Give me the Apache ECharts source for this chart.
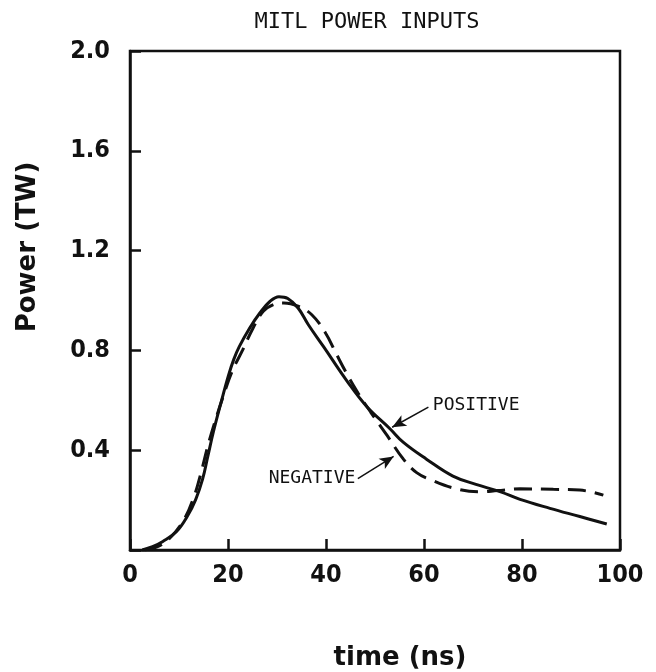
<!DOCTYPE html>
<html>
<head>
<meta charset="utf-8">
<script src="https://cdn.jsdelivr.net/npm/echarts@6/dist/echarts.min.js"></script>
<style>
  html, body { margin: 0; padding: 0; background: #fff; }
  #chart { width: 656px; height: 672px; }
</style>
</head>
<body>
<div id="chart"></div>
<script>
// time (ns) / power (TW)
var positiveTime = [2.5, 4.6, 6.7, 9.5, 11.7, 13.4, 14.8, 15.9, 17, 18.7, 20.1, 21.2, 22.3, 24.4, 26.5, 28.6, 30.4, 32.2, 34.3, 36.4, 39.5, 44.4, 48.4, 53.1, 55.8, 60.5, 65.9, 70.6, 75.5, 79.6, 85.7, 91.8, 97.3]
var positivePower = [0, 0.013, 0.034, 0.074, 0.135, 0.202, 0.283, 0.377, 0.472, 0.6, 0.7, 0.765, 0.815, 0.889, 0.95, 0.997, 1.015, 1.008, 0.97, 0.903, 0.815, 0.674, 0.573, 0.485, 0.431, 0.364, 0.296, 0.263, 0.234, 0.203, 0.167, 0.134, 0.104]

var negativeTime = [3, 5.5, 8.1, 11, 13.1, 14.5, 15.9, 17.3, 19.1, 20.8, 23, 25.1, 27.2, 29.3, 31.4, 34.3, 37.1, 39.9, 42, 44, 46.5, 49.1, 52.5, 55.8, 58.5, 61.2, 65.9, 71.3, 75, 79.6, 86.4, 91.8, 96.6]
var negativePower = [0, 0.012, 0.047, 0.121, 0.216, 0.31, 0.418, 0.512, 0.62, 0.714, 0.802, 0.889, 0.957, 0.984, 0.99, 0.977, 0.943, 0.87, 0.79, 0.715, 0.63, 0.553, 0.458, 0.364, 0.31, 0.283, 0.249, 0.233, 0.238, 0.245, 0.243, 0.24, 0.22]

var xTicks = [0, 20, 40, 60, 80, 100]
var yTicks = [0, 0.4, 0.8, 1.2, 1.6, 2.0]

// arrow annotations: [tail, head] in data units
var positiveArrow = [[60.9, 0.573], [53.5, 0.492]]
var negativeArrow = [[46.5, 0.286], [53.8, 0.375]]

function pairs(xs, ys) {
  return xs.map(function(x, i) { return [x, ys[i]] })
}

var labelFont = "'DejaVu Sans Condensed', 'DejaVu Sans', sans-serif"
var nameFont = "'DejaVu Sans', sans-serif"
var monoFont = "'DejaVu Sans Mono', monospace"

var chart = echarts.init(document.getElementById('chart'))
chart.setOption({
  animation: false,
  backgroundColor: '#fff',
  title: {
    text: 'MITL POWER INPUTS',
    left: 362,
    textAlign: 'center',
    top: 6,
    textStyle: { fontFamily: monoFont, fontWeight: 'normal', fontSize: 22, color: '#111' }
  },
  grid: {
    left: 130,
    right: 36,
    top: 51,
    bottom: 122,
    show: true,
    borderColor: '#111',
    borderWidth: 2.5
  },
  xAxis: {
    type: 'value',
    min: xTicks[0],
    max: xTicks[xTicks.length - 1],
    interval: 20,
    axisLine: { lineStyle: { color: '#111', width: 2.5 } },
    axisTick: { inside: true, length: 11, lineStyle: { color: '#111', width: 2.5 } },
    axisLabel: { fontFamily: labelFont, fontWeight: 'bold', fontSize: 25, color: '#111', margin: 13 },
    splitLine: { show: false }
  },
  yAxis: {
    type: 'value',
    min: yTicks[0],
    max: yTicks[yTicks.length - 1],
    interval: 0.4,
    axisLine: { lineStyle: { color: '#111', width: 2.5 } },
    axisTick: { inside: true, length: 11, lineStyle: { color: '#111', width: 2.5 } },
    axisLabel: {
      fontFamily: labelFont, fontWeight: 'bold', fontSize: 25, color: '#111', margin: 20,
      formatter: function(v) { return v === 0 ? '' : v.toFixed(1) }
    },
    splitLine: { show: false }
  },
  graphic: [
    {
      type: 'text',
      x: 28, y: 247,
      rotation: Math.PI / 2,
      style: {
        text: 'Power (TW)', fill: '#111',
        font: 'bold 26px ' + nameFont,
        align: 'center', verticalAlign: 'middle'
      }
    },
    {
      type: 'text',
      x: 400, y: 658,
      style: {
        text: 'time (ns)', fill: '#111',
        font: 'bold 26px ' + nameFont,
        align: 'center', verticalAlign: 'middle'
      }
    }
  ],
  series: [
    {
      name: 'POSITIVE',
      type: 'line',
      data: pairs(positiveTime, positivePower),
      smooth: 0.4,
      showSymbol: false,
      lineStyle: { color: '#111', width: 3 },
      markLine: {
        silent: true,
        symbolSize: [9, 14],
        lineStyle: { color: '#111', width: 1.5, type: 'solid' },
        label: { show: false },
        data: [[
          { coord: positiveArrow[0], symbol: 'none' },
          { coord: positiveArrow[1], symbol: 'arrow' }
        ]]
      },
      markPoint: {
        silent: true,
        symbol: 'circle',
        symbolSize: 0,
        label: {
          show: true, position: 'right', distance: 1,
          formatter: 'POSITIVE',
          fontFamily: monoFont, fontSize: 18, color: '#111'
        },
        data: [{ coord: [61.6, 0.578] }]
      }
    },
    {
      name: 'NEGATIVE',
      type: 'line',
      data: pairs(negativeTime, negativePower),
      smooth: 0.4,
      showSymbol: false,
      lineStyle: { color: '#111', width: 3, type: [18, 9] },
      markLine: {
        silent: true,
        symbolSize: [9, 14],
        lineStyle: { color: '#111', width: 1.5, type: 'solid' },
        label: { show: false },
        data: [[
          { coord: negativeArrow[0], symbol: 'none' },
          { coord: negativeArrow[1], symbol: 'arrow' }
        ]]
      },
      markPoint: {
        silent: true,
        symbol: 'circle',
        symbolSize: 0,
        label: {
          show: true, position: 'left', distance: 1,
          formatter: 'NEGATIVE',
          fontFamily: monoFont, fontSize: 18, color: '#111'
        },
        data: [{ coord: [46.2, 0.288] }]
      }
    }
  ]
})
</script>
</body>
</html>
